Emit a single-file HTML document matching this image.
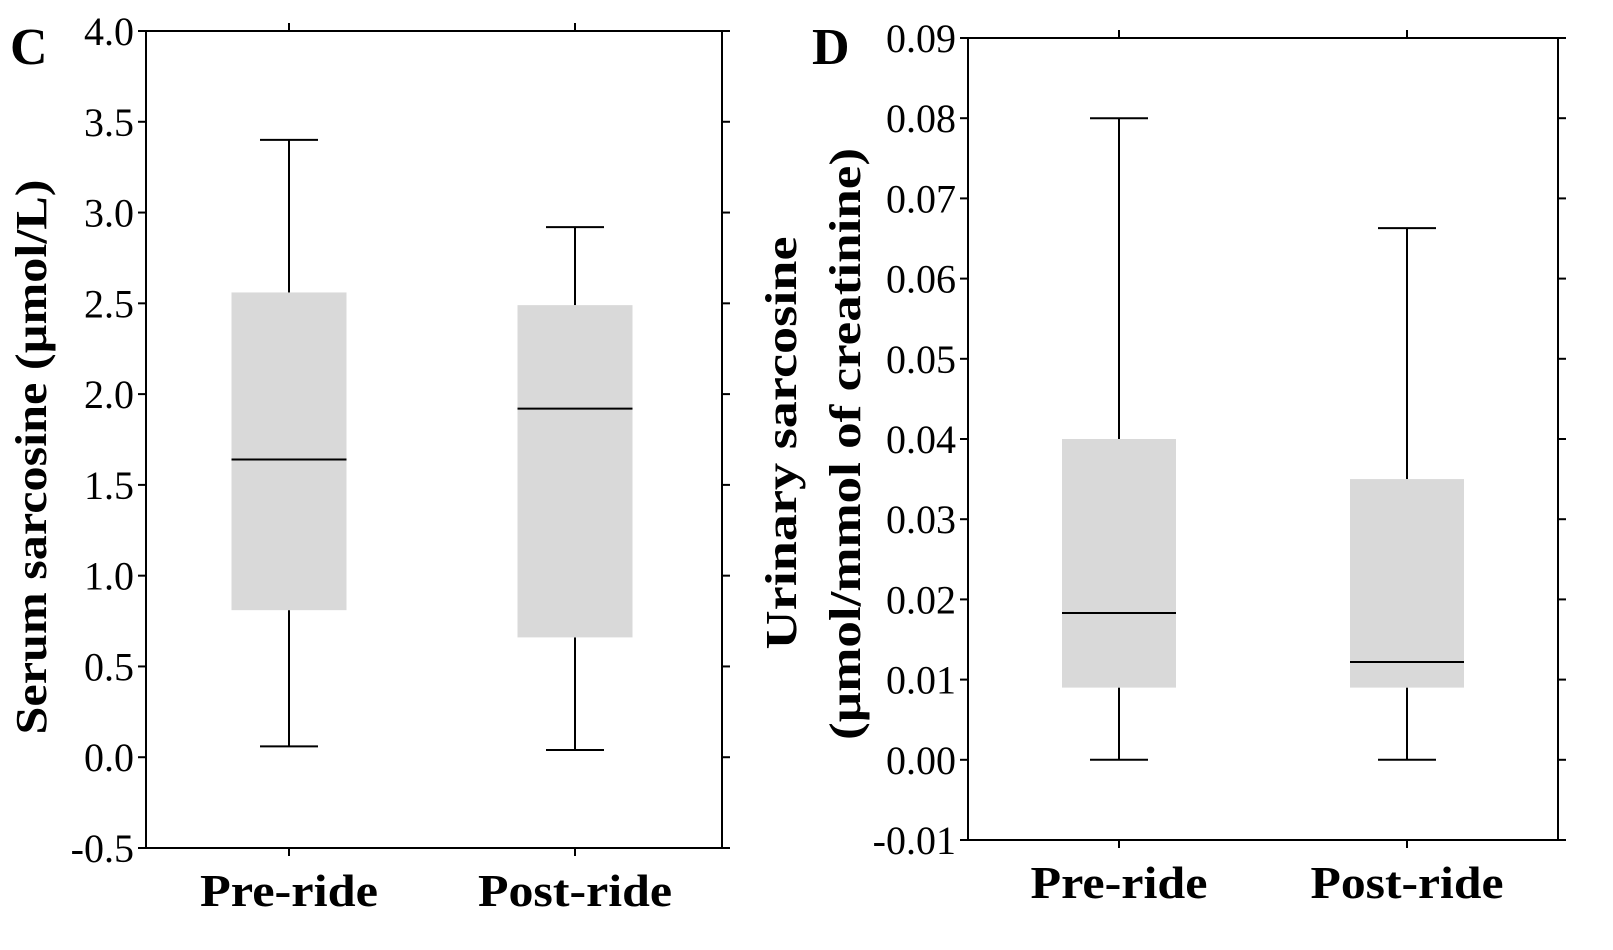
<!DOCTYPE html>
<html><head><meta charset="utf-8"><style>
body{margin:0;background:#fff;}
svg{display:block;font-family:"Liberation Serif",serif;}
</style></head><body>
<svg id="chart" width="1613" height="950" viewBox="0 0 1613 950"></svg>
<script>
const categories = ["Pre-ride","Post-ride"];
const serumWhiskLow = [0.06,0.04];
const serumQ1 = [0.81,0.66];
const serumMedian = [1.64,1.92];
const serumQ3 = [2.56,2.49];
const serumWhiskHigh = [3.40,2.92];
const serumTicks = ["-0.5","0.0","0.5","1.0","1.5","2.0","2.5","3.0","3.5","4.0"];
const urineWhiskLow = [0.0,0.0];
const urineQ1 = [0.009,0.009];
const urineMedian = [0.0183,0.0122];
const urineQ3 = [0.040,0.035];
const urineWhiskHigh = [0.080,0.0663];
const urineTicks = ["-0.01","0.00","0.01","0.02","0.03","0.04","0.05","0.06","0.07","0.08","0.09"];

const NS="http://www.w3.org/2000/svg";
const svg=document.getElementById('chart');
function mk(tag,attrs,parent){const e=document.createElementNS(NS,tag);for(const k in attrs)e.setAttribute(k,attrs[k]);(parent||svg).appendChild(e);return e;}

function panel(p){
  const g=mk('g',{});
  
  
  const ymin=parseFloat(p.ticks[0]), ymax=parseFloat(p.ticks[p.ticks.length-1]);
  const y=v=>p.bottom-(v-ymin)/(ymax-ymin)*(p.bottom-p.top);
  const xs=p.centers;
  const fr=mk('rect',{x:p.left,y:p.top,width:p.right-p.left,height:p.bottom-p.top,fill:'none',stroke:'#000','stroke-width':2},g);
  
  
  p.ticks.forEach(t=>{
    const yy=y(parseFloat(t));
    mk('line',{x1:p.left-8,x2:p.left,y1:yy,y2:yy,stroke:'#000','stroke-width':2},g);
    mk('line',{x1:p.right,x2:p.right+8,y1:yy,y2:yy,stroke:'#000','stroke-width':2},g);
    const tx=mk('text',{x:p.left-12,y:yy+14,'text-anchor':'end','font-size':p.tickFont},g);
    tx.textContent=t;
    
    
  });
  categories.forEach((c,i)=>{
    const cx=xs[i];
    mk('line',{x1:cx,x2:cx,y1:p.top-8,y2:p.top,stroke:'#000','stroke-width':2},g);
    mk('line',{x1:cx,x2:cx,y1:p.bottom,y2:p.bottom+8,stroke:'#000','stroke-width':2},g);
    const bg=mk('g',{},g);
    
    
    const hw=p.boxW/2;
    mk('line',{x1:cx,x2:cx,y1:y(p.hi[i]),y2:y(p.q3[i]),stroke:'#000','stroke-width':2},bg);
    mk('line',{x1:cx,x2:cx,y1:y(p.q1[i]),y2:y(p.lo[i]),stroke:'#000','stroke-width':2},bg);
    mk('line',{x1:cx-29,x2:cx+29,y1:y(p.hi[i]),y2:y(p.hi[i]),stroke:'#000','stroke-width':2},bg);
    mk('line',{x1:cx-29,x2:cx+29,y1:y(p.lo[i]),y2:y(p.lo[i]),stroke:'#000','stroke-width':2},bg);
    mk('rect',{x:cx-hw,y:y(p.q3[i]),width:p.boxW,height:y(p.q1[i])-y(p.q3[i]),fill:'#d9d9d9'},bg);
    mk('line',{x1:cx-hw,x2:cx+hw,y1:y(p.med[i]),y2:y(p.med[i]),stroke:'#000','stroke-width':2},bg);
    const lb=mk('text',{x:cx,y:p.bottom+58,'text-anchor':'middle','font-size':46,'font-weight':'bold',textLength:p.labLen[i],lengthAdjust:'spacingAndGlyphs'},g);
    lb.textContent=c;
    
    
  });
  const L=mk('text',{x:p.letterX,y:p.letterY,'font-size':52,'font-weight':'bold'},g);
  L.textContent=p.letter;
  
  
  p.titles.forEach((t,k)=>{
    const tt=mk('text',{x:0,y:0,'text-anchor':'middle','font-size':44,'font-weight':'bold',textLength:p.titleLen[k],lengthAdjust:'spacingAndGlyphs',transform:`translate(${p.titleX[k]},${p.titleY[k]}) rotate(-90)`},g);
    tt.textContent=t;
    
    
  });
}
panel({name:'panel-c-serum',left:146,right:722,top:31,bottom:848,centers:[289,575],boxW:115,
  ticks:serumTicks,lo:serumWhiskLow,q1:serumQ1,med:serumMedian,q3:serumQ3,hi:serumWhiskHigh,labLen:[178,194],
  tickFont:40,letter:'C',letterX:10,letterY:64,titles:['Serum sarcosine (µmol/L)'],titleX:[46],titleY:[457],titleLen:[555]});
panel({name:'panel-d-urine',left:968,right:1558,top:38,bottom:840,centers:[1119,1407],boxW:114,
  ticks:urineTicks,lo:urineWhiskLow,q1:urineQ1,med:urineMedian,q3:urineQ3,hi:urineWhiskHigh,labLen:[177,193],
  tickFont:40,letter:'D',letterX:812,letterY:64,titles:['Urinary sarcosine','(µmol/mmol of creatinine)'],titleX:[796,860],titleY:[443,444],titleLen:[413,592]});
</script>
</body></html>
